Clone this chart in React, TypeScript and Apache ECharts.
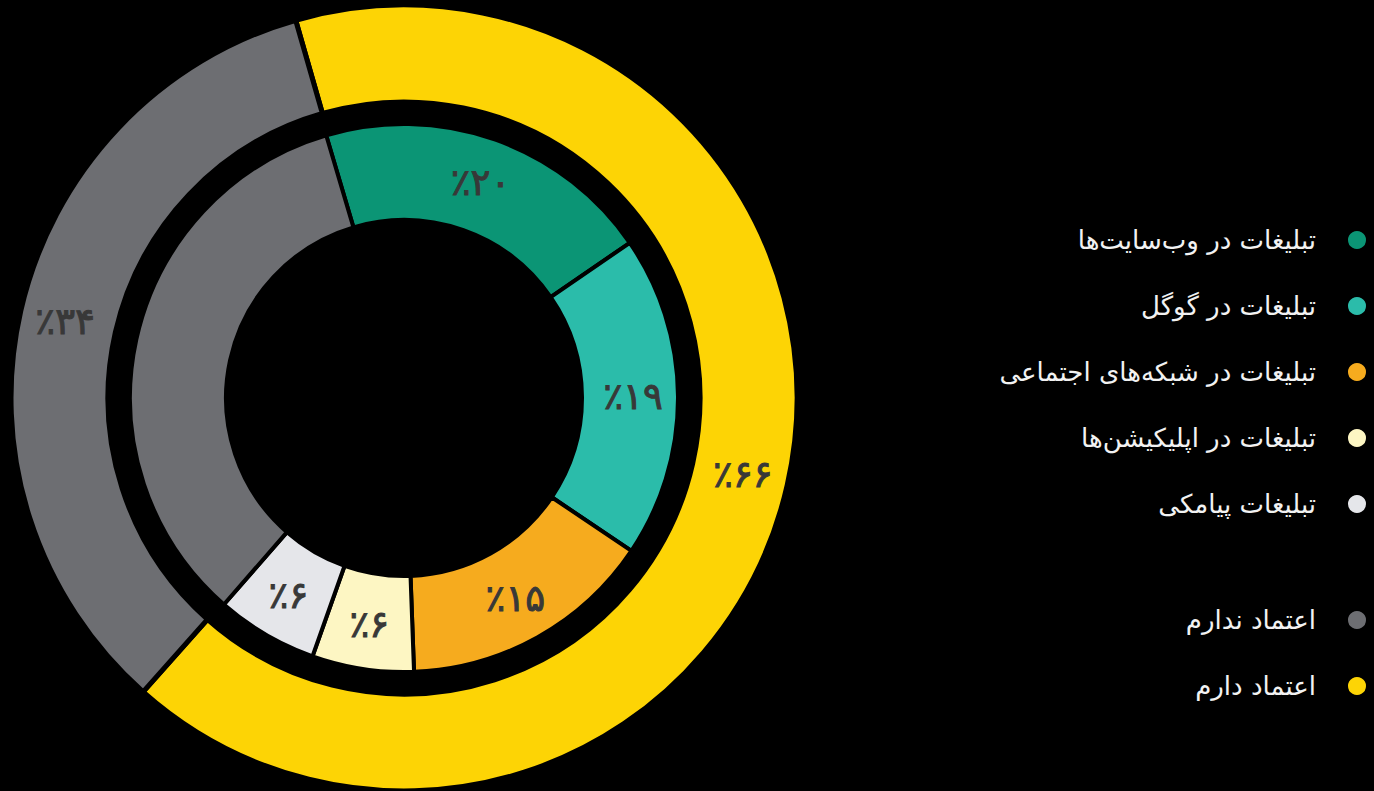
import React, { useEffect, useRef } from "react";
import * as echarts from "echarts";

const innerNames = [
  "تبلیغات در وب‌سایت‌ها",
  "تبلیغات در گوگل",
  "تبلیغات در شبکه‌های اجتماعی",
  "تبلیغات در اپلیکیشن‌ها",
  "تبلیغات پیامکی",
];
const innerValues = [20, 19, 15, 6, 6];
const innerColors = ["#0b9575", "#2bbcaa", "#f6ab1e", "#fdf6c3", "#e5e6ea"];

const outerNames = ["اعتماد دارم", "اعتماد ندارم"];
const outerValues = [66, 34];
const outerColors = ["#fdd405", "#6d6e72"];

const legendTrustNames = ["اعتماد ندارم", "اعتماد دارم"];

const toFa = (n: number) =>
  String(n).replace(/\d/g, (d) => "۰۱۲۳۴۵۶۷۸۹"[Number(d)]);
const pct = (n: number) => "٪" + toFa(n);

const FONT = "DejaVu Sans";

export default function App() {
  const ref = useRef<HTMLDivElement>(null);
  useEffect(() => {
    document.body.style.margin = "0";
    document.body.style.background = "#000";
    const chart = echarts.init(ref.current!, null, { renderer: "svg" });
    const innerData = innerNames.map((name, i) => ({
      name,
      value: innerValues[i],
      itemStyle: { color: innerColors[i] },
    }));
    innerData.push({
      name: "اعتماد ندارم",
      value: outerValues[1],
      itemStyle: { color: outerColors[1] },
      label: { show: false },
    } as any);
    const outerData = outerNames.map((name, i) => ({
      name,
      value: outerValues[i],
      itemStyle: { color: outerColors[i] },
    }));
    const legendCommon = {
      orient: "vertical" as const,
      right: 6,
      padding: 0,
      align: "right" as const,
      icon: "circle",
      itemWidth: 20,
      itemHeight: 20,
      itemGap: 40,
      textStyle: {
        color: "#f2f2f2",
        fontSize: 26,
        lineHeight: 26,
        fontFamily: FONT,
        padding: [0, 26, 0, 0],
      },
    };
    const labelStyle = {
      show: true,
      position: "inside" as const,
      formatter: (p: any) => pct(p.value),
      color: "#383838",
      fontSize: 37,
      fontWeight: "normal" as const,
      fontFamily: FONT,
      textBorderColor: "#383838",
      textBorderWidth: 1,
    };
    chart.setOption({
      animation: false,
      backgroundColor: "#000",
      legend: [
        { ...legendCommon, top: 227, data: innerNames },
        { ...legendCommon, top: 607, data: legendTrustNames },
      ],
      series: [
        {
          type: "pie",
          name: "outer",
          center: [404, 398],
          radius: [296, 393],
          startAngle: 106,
          clockwise: true,
          silent: true,
          itemStyle: { borderColor: "#000", borderWidth: 5 },
          label: labelStyle,
          labelLine: { show: false },
          data: outerData,
        },
        {
          type: "pie",
          name: "inner",
          center: [404, 398],
          radius: [178, 274],
          startAngle: 106.5,
          clockwise: true,
          silent: true,
          itemStyle: { borderColor: "#000", borderWidth: 4 },
          label: labelStyle,
          labelLine: { show: false },
          data: innerData,
        },
      ],
    });
    return () => chart.dispose();
  }, []);
  return (
    <div
      ref={ref}
      style={{
        position: "fixed",
        left: 0,
        top: 0,
        width: 1374,
        height: 791,
        background: "#000",
      }}
    />
  );
}
